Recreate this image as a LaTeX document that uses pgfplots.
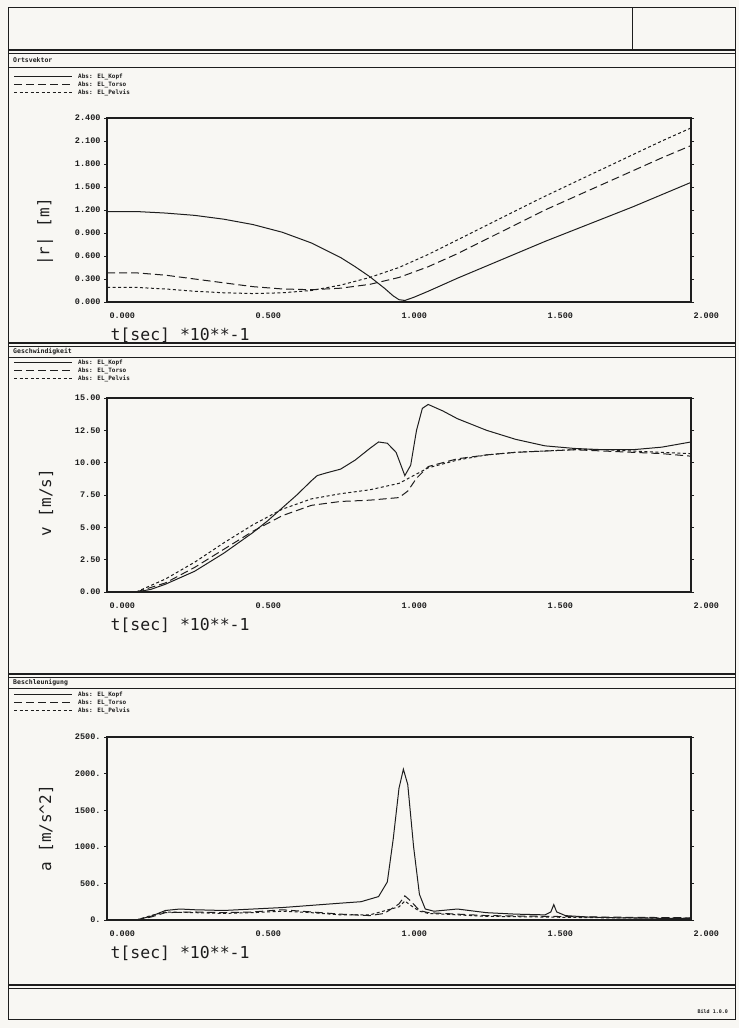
\documentclass[border=0pt]{standalone}
\usepackage{fontspec}
\setmainfont{DejaVu Sans Mono}
\newfontfamily\tickfont{Liberation Mono}
\usepackage{pgfplots}
\pgfplotsset{compat=1.18}
\definecolor{paper}{RGB}{248,247,243}
\definecolor{ink}{RGB}{30,30,30}

\tikzset{
  kopf/.style={ink, line width=1pt},
  torso/.style={ink, line width=1pt, dash pattern=on 8pt off 4pt},
  pelvis/.style={ink, line width=1pt, dash pattern=on 3pt off 2.5pt},
}

\pgfplotsset{
  plotter/.style={
    scale only axis,
    width=584pt,
    xmin=0, xmax=2,
    xtick={0,0.5,1,1.5,2},
    xticklabels={0.000,0.500,1.000,1.500,2.000},
    axis line style={ink, line width=1.5pt},
    ytick style={ink, line width=0.8pt},
    xtick style={draw=none},
    tick align=outside,
    major tick length=3pt,
    /pgf/number format/assume math mode=true,
    tick label style={font=\tickfont\bfseries\fontsize{8.5}{9}\selectfont, ink},
    xticklabel style={anchor=north west, xshift=-1pt, yshift=-4pt},
    xlabel={t[sec]  *10**-1},
    xlabel style={at={(axis description cs:0,0)}, anchor=west, yshift=-33pt,
      font=\fontsize{16.5}{16.5}\selectfont, ink},
    ylabel style={anchor=south, font=\fontsize{16}{16}\selectfont, ink},
    clip=false,
  },
}

\newcommand{\legendblock}[1]{%
  \draw[kopf] (14,#1) -- (72,#1);
  \draw[torso] (14,#1-8) -- (72,#1-8);
  \draw[pelvis] (14,#1-16) -- (72,#1-16);
  \node[anchor=west, font=\bfseries\fontsize{6}{6}\selectfont, ink, inner sep=0pt] at (78,#1) {Abs: EL\_Kopf};
  \node[anchor=west, font=\bfseries\fontsize{6}{6}\selectfont, ink, inner sep=0pt] at (78,#1-8) {Abs: EL\_Torso};
  \node[anchor=west, font=\bfseries\fontsize{6}{6}\selectfont, ink, inner sep=0pt] at (78,#1-16) {Abs: EL\_Pelvis};
}

\begin{document}
\begin{tikzpicture}[x=1pt, y=1pt]
  \fill[paper] (0,0) rectangle (739,1028);
  \useasboundingbox (0,0) rectangle (739,1028);
  \coordinate (A1) at (107,726);
  \coordinate (A2) at (107,436);
  \coordinate (A3) at (107,108);

  % frame and section rules
  \draw[ink, line width=1pt] (8,8) rectangle (735,1020);
  \draw[ink, line width=1pt] (632,1020) -- (632,978);
  \draw[ink, line width=1.2pt] (8,978) -- (735,978);
  \draw[ink, line width=0.6pt] (8,975) -- (735,975);
  \draw[ink, line width=1pt] (8,960) -- (735,960);
  \draw[ink, line width=1.2pt] (8,685) -- (735,685);
  \draw[ink, line width=0.6pt] (8,682) -- (735,682);
  \draw[ink, line width=1pt] (8,670) -- (735,670);
  \draw[ink, line width=1.2pt] (8,354) -- (735,354);
  \draw[ink, line width=0.6pt] (8,351) -- (735,351);
  \draw[ink, line width=1pt] (8,339) -- (735,339);
  \draw[ink, line width=1.2pt] (8,43) -- (735,43);
  \draw[ink, line width=0.6pt] (8,40) -- (735,40);

  \node[anchor=west, font=\bfseries\fontsize{6.5}{6.5}\selectfont, ink, inner sep=0pt] at (13,968) {Ortsvektor};
  \node[anchor=west, font=\bfseries\fontsize{6.5}{6.5}\selectfont, ink, inner sep=0pt] at (13,676) {Geschwindigkeit};
  \node[anchor=west, font=\bfseries\fontsize{6.5}{6.5}\selectfont, ink, inner sep=0pt] at (13,345.5) {Beschleunigung};
  \node[anchor=east, font=\bfseries\fontsize{5}{5}\selectfont, ink, inner sep=0pt] at (728,16) {Bild 1.0.0};

  \legendblock{951}
  \legendblock{665}
  \legendblock{333}

  % Ortsvektor
  \begin{axis}[plotter, at={(A1)}, anchor=south west, height=184pt,
      ymin=0, ymax=2.4, ytick={0,0.3,...,2.4},
      yticklabels={0.000,0.300,0.600,0.900,1.200,1.500,1.800,2.100,2.400},
      ylabel={|r| [m]},
      ylabel style={at={(axis description cs:-0.086,0.38)}}]
    \addplot[kopf] coordinates {(0,1.18) (0.1,1.18) (0.2,1.16) (0.3,1.13) (0.4,1.08)
      (0.5,1.01) (0.6,0.91) (0.7,0.77) (0.8,0.58) (0.85,0.46) (0.9,0.33) (0.95,0.18)
      (0.98,0.08) (1.0,0.03) (1.02,0.02) (1.05,0.06) (1.1,0.14) (1.2,0.31) (1.3,0.47)
      (1.4,0.63) (1.5,0.79) (1.6,0.94) (1.7,1.09) (1.8,1.24) (1.9,1.40) (2.0,1.56)};
    \addplot[torso] coordinates {(0,0.38) (0.1,0.38) (0.2,0.35) (0.3,0.30) (0.4,0.25)
      (0.5,0.20) (0.6,0.17) (0.7,0.16) (0.8,0.18) (0.9,0.23) (1.0,0.32) (1.1,0.46)
      (1.2,0.63) (1.3,0.82) (1.4,1.01) (1.5,1.20) (1.6,1.37) (1.7,1.54) (1.8,1.71)
      (1.9,1.88) (2.0,2.04)};
    \addplot[pelvis] coordinates {(0,0.19) (0.1,0.19) (0.2,0.17) (0.3,0.14) (0.4,0.12)
      (0.5,0.11) (0.6,0.12) (0.7,0.15) (0.8,0.22) (0.9,0.32) (1.0,0.45) (1.1,0.62)
      (1.2,0.81) (1.3,1.00) (1.4,1.19) (1.5,1.38) (1.6,1.56) (1.7,1.74) (1.8,1.92)
      (1.9,2.10) (2.0,2.27)};
  \end{axis}

  % Geschwindigkeit
  \begin{axis}[plotter, at={(A2)}, anchor=south west, height=194pt,
      ymin=0, ymax=15, ytick={0,2.5,...,15},
      yticklabels={0.00,2.50,5.00,7.50,10.00,12.50,15.00},
      ylabel={v [m/s]},
      ylabel style={at={(axis description cs:-0.086,0.46)}}]
    \addplot[kopf] coordinates {(0.1,0) (0.15,0.2) (0.2,0.6) (0.3,1.6) (0.4,3.0)
      (0.5,4.6) (0.55,5.5) (0.6,6.5) (0.65,7.5) (0.7,8.6) (0.72,9.0) (0.75,9.2)
      (0.8,9.5) (0.85,10.2) (0.9,11.1) (0.93,11.6) (0.96,11.5) (0.99,10.8) (1.02,9.0)
      (1.04,9.8) (1.06,12.5) (1.08,14.2) (1.1,14.5) (1.15,14.0) (1.2,13.4) (1.3,12.5)
      (1.4,11.8) (1.5,11.3) (1.6,11.1) (1.7,11.0) (1.8,11.0) (1.9,11.2) (2.0,11.6)};
    \addplot[torso] coordinates {(0.1,0) (0.2,0.7) (0.3,1.9) (0.4,3.3) (0.5,4.7)
      (0.6,5.9) (0.7,6.7) (0.8,7.0) (0.9,7.1) (1.0,7.3) (1.03,7.8) (1.06,8.8)
      (1.1,9.7) (1.2,10.3) (1.3,10.6) (1.4,10.8) (1.5,10.9) (1.6,11.0) (1.7,10.9)
      (1.8,10.8) (1.9,10.7) (2.0,10.5)};
    \addplot[pelvis] coordinates {(0.1,0) (0.2,1.0) (0.3,2.3) (0.4,3.8) (0.5,5.2)
      (0.6,6.4) (0.7,7.2) (0.8,7.6) (0.9,7.9) (1.0,8.4) (1.05,9.0) (1.1,9.6)
      (1.2,10.2) (1.3,10.6) (1.4,10.8) (1.5,10.9) (1.6,11.0) (1.7,11.0) (1.8,10.9)
      (1.9,10.8) (2.0,10.7)};
  \end{axis}

  % Beschleunigung
  \begin{axis}[plotter, at={(A3)}, anchor=south west, height=183pt,
      ymin=0, ymax=2500, ytick={0,500,...,2500},
      yticklabels={0.,500.,1000.,1500.,2000.,2500.},
      ylabel={a [m/s\textasciicircum 2]},
      ylabel style={at={(axis description cs:-0.086,0.5)}}]
    \addplot[kopf] coordinates {(0.1,0) (0.15,50) (0.2,130) (0.25,150) (0.3,140)
      (0.4,130) (0.5,150) (0.6,170) (0.7,200) (0.8,230) (0.87,250) (0.93,320)
      (0.96,520) (0.98,1100) (1.0,1800) (1.015,2060) (1.03,1850) (1.05,1000)
      (1.07,350) (1.09,150) (1.12,120) (1.2,150) (1.3,100) (1.4,80) (1.5,70)
      (1.52,110) (1.53,210) (1.54,110) (1.57,60) (1.65,40) (1.75,30) (1.85,25) (2.0,20)};
    \addplot[torso] coordinates {(0.1,0) (0.15,40) (0.2,100) (0.3,110) (0.4,100)
      (0.5,110) (0.6,140) (0.7,110) (0.8,80) (0.9,60) (0.95,90) (1.0,220)
      (1.02,330) (1.04,260) (1.07,130) (1.1,100) (1.2,80) (1.3,60) (1.5,50)
      (1.7,40) (2.0,30)};
    \addplot[pelvis] coordinates {(0.1,0) (0.15,60) (0.2,110) (0.3,100) (0.4,90)
      (0.5,100) (0.6,120) (0.7,100) (0.8,70) (0.9,70) (1.0,180) (1.02,260)
      (1.04,200) (1.07,120) (1.1,90) (1.2,70) (1.3,50) (1.5,40) (1.7,30) (2.0,25)};
  \end{axis}
\end{tikzpicture}
\end{document}
